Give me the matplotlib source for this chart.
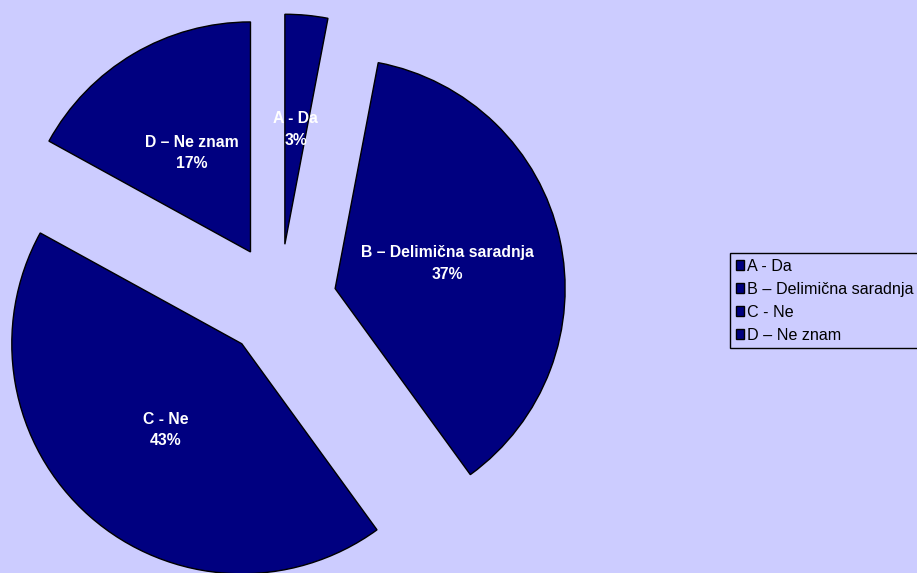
import matplotlib
matplotlib.use("Agg")
import matplotlib.pyplot as plt

# Survey answers and their shares (percent)
categories = ["A - Da", "B – Delimična saradnja", "C - Ne", "D – Ne znam"]
shares = [3, 37, 43, 17]

BG = "#CCCCFF"
NAVY = "#000080"

plt.rcParams["font.family"] = ["Liberation Sans", "DejaVu Sans"]

W, H = 917, 573
fig = plt.figure(figsize=(W / 100, H / 100), dpi=100, facecolor=BG)
ax = fig.add_axes([0, 0, 1, 1])
ax.set_facecolor(BG)

# Axes in pixel units so the pie geometry is easy to place
cx, cy = 279.5, H - 301
radius = 230
offset = 57

wedges, _texts, autotexts = ax.pie(
    shares,
    labels=categories,
    labeldistance=None,
    colors=[NAVY] * len(shares),
    startangle=90,
    counterclock=False,
    explode=[offset] * len(shares),
    center=(cx, cy),
    radius=radius,
    autopct="%1.0f%%",
    pctdistance=0.5,
    wedgeprops=dict(edgecolor="black", linewidth=1.0),
    textprops=dict(color="white", fontsize=11.3, fontweight="bold"),
)
for cat, val, t in zip(categories, shares, autotexts):
    t.set_text(f"{cat}\n{val}%")
    t.set_linespacing(1.55)
    t.set_clip_on(False)

ax.set_xlim(0, W)
ax.set_ylim(0, H)
ax.set_aspect("auto")
ax.axis("off")

leg = ax.legend(
    handles=wedges,
    labels=categories,
    loc="upper left",
    bbox_to_anchor=(730 / W, 1 - 253 / H),
    bbox_transform=fig.transFigure,
    frameon=True,
    fancybox=False,
    shadow=False,
    fontsize=11.6,
    handlelength=0.53,
    handleheight=0.53,
    handletextpad=0.15,
    borderpad=0.45,
    labelspacing=0.5,
    borderaxespad=0,
)
frame = leg.get_frame()
frame.set_facecolor(BG)
frame.set_edgecolor("black")
frame.set_linewidth(1.0)
frame.set_alpha(1)
# keep the box height unchanged while widening it past the figure edge
leg._legend_box.pad = 4

fig.savefig("out.png", dpi=100, facecolor=BG)
